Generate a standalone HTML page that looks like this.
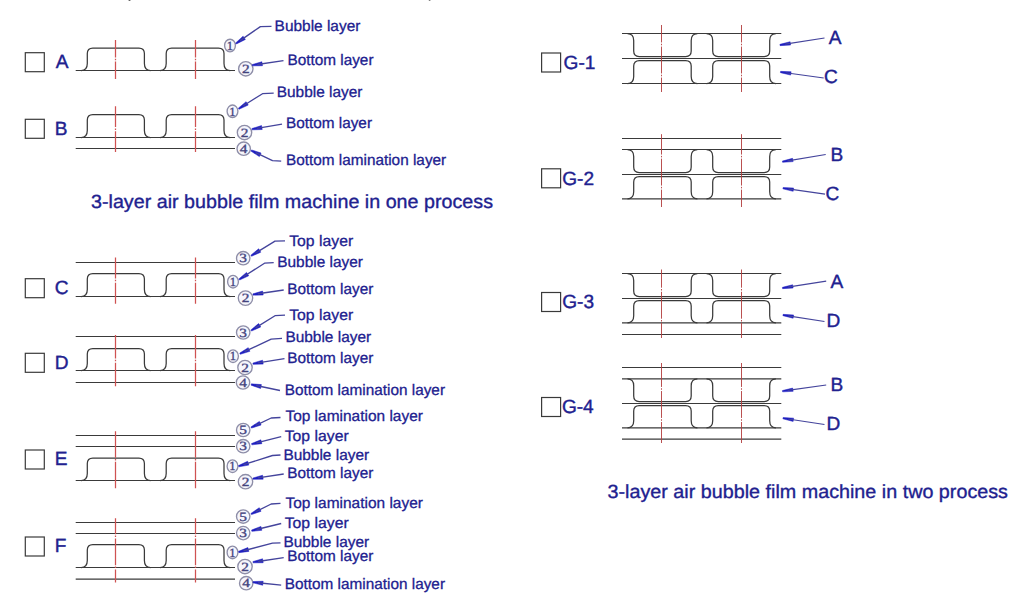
<!DOCTYPE html>
<html lang="en">
<head>
<meta charset="utf-8">
<title>3-layer air bubble film machine</title>
<style>
html,body{margin:0;padding:0;background:#ffffff;}
body{width:1024px;height:594px;overflow:hidden;}
svg{display:block;}
text{white-space:pre;}
</style>
</head>
<body>
<svg width="1024" height="594" viewBox="0 0 1024 594">
<rect x="0" y="0" width="1024" height="594" fill="#ffffff"/>
<rect x="128.6" y="0" width="1.8" height="0.9" fill="#555"/>
<rect x="428.8" y="0" width="1.6" height="0.8" fill="#666"/>
<line x1="75.7" y1="70.5" x2="235.0" y2="70.5" stroke="#3a3a3a" stroke-width="1.2"/>
<path d="M81.10,70.50 C85.10,70.50 87.30,68.30 87.30,63.50 L87.30,53.50 C87.30,50.20 89.50,48.00 92.80,48.00 L138.90,48.00 C142.20,48.00 144.40,50.20 144.40,53.50 L144.40,63.50 C144.40,68.30 146.60,70.50 150.60,70.50" fill="none" stroke="#3a3a3a" stroke-width="1.25" stroke-linejoin="round"/>
<path d="M160.00,70.50 C164.00,70.50 166.20,68.30 166.20,63.50 L166.20,53.50 C166.20,50.20 168.40,48.00 171.70,48.00 L218.50,48.00 C221.80,48.00 224.00,50.20 224.00,53.50 L224.00,63.50 C224.00,68.30 226.20,70.50 230.20,70.50" fill="none" stroke="#3a3a3a" stroke-width="1.25" stroke-linejoin="round"/>
<line x1="115.5" y1="40" x2="115.5" y2="79" stroke="#cf5252" stroke-width="1.25" stroke-dasharray="17.45 1.3 1.5 1.3 22.45"/>
<line x1="195.5" y1="40" x2="195.5" y2="79" stroke="#cf5252" stroke-width="1.25" stroke-dasharray="17.45 1.3 1.5 1.3 22.45"/>
<rect x="25.3" y="52.7" width="19" height="19" fill="none" stroke="#3a3a3a" stroke-width="1.2"/>
<text transform="translate(55.80,68.3) skewX(0.05)" font-size="19.1" font-family="Liberation Sans, Arial, sans-serif" fill="#21218f" text-anchor="start" stroke="#21218f" stroke-width="0.4">A</text>
<ellipse cx="230" cy="45.5" rx="5.40" ry="6.30" fill="#f6f6fc" stroke="#8e8ea8" stroke-width="1.35"/>
<text transform="translate(230,49.72) skewX(0.05) scale(1.0,1)" font-size="12.60" font-family="Liberation Serif, serif" fill="#44447e" stroke="#44447e" stroke-width="0.35" text-anchor="middle">1</text>
<ellipse cx="245.8" cy="68.75" rx="7.20" ry="7.20" fill="#f6f6fc" stroke="#8e8ea8" stroke-width="1.35"/>
<text transform="translate(245.8,72.97) skewX(0.05) scale(1.22,1)" font-size="12.60" font-family="Liberation Serif, serif" fill="#44447e" stroke="#44447e" stroke-width="0.35" text-anchor="middle">2</text>
<polygon points="236.37,44.03 245.36,39.45 243.08,36.16 235.63,42.97" fill="#1e1ec0" stroke="#1e1ec0" stroke-width="0.5" stroke-linejoin="round"/>
<path d="M240.11,40.65 L260.40,26.60 L271.50,26.30" fill="none" stroke="#44449c" stroke-width="1.35" stroke-linejoin="round"/>
<polygon points="252.39,65.84 262.48,65.72 261.90,61.76 252.21,64.56" fill="#1e1ec0" stroke="#1e1ec0" stroke-width="0.5" stroke-linejoin="round"/>
<path d="M257.25,64.47 L283.50,60.60" fill="none" stroke="#44449c" stroke-width="1.35" stroke-linejoin="round"/>
<text transform="translate(274.60,31.2) skewX(0.05)" font-size="15.2" font-family="Liberation Sans, Arial, sans-serif" fill="#21218f" text-anchor="start" textLength="85.8" lengthAdjust="spacingAndGlyphs" stroke="#21218f" stroke-width="0.3">Bubble layer</text>
<text transform="translate(287.40,64.9) skewX(0.05)" font-size="15.2" font-family="Liberation Sans, Arial, sans-serif" fill="#21218f" text-anchor="start" textLength="86.1" lengthAdjust="spacingAndGlyphs" stroke="#21218f" stroke-width="0.3">Bottom layer</text>
<line x1="75.7" y1="148.5" x2="235.0" y2="148.5" stroke="#3a3a3a" stroke-width="1.2"/>
<line x1="75.7" y1="137.5" x2="235.0" y2="137.5" stroke="#3a3a3a" stroke-width="1.2"/>
<path d="M81.10,137.50 C85.10,137.50 87.30,135.30 87.30,130.50 L87.30,120.00 C87.30,116.70 89.50,114.50 92.80,114.50 L138.90,114.50 C142.20,114.50 144.40,116.70 144.40,120.00 L144.40,130.50 C144.40,135.30 146.60,137.50 150.60,137.50" fill="none" stroke="#3a3a3a" stroke-width="1.25" stroke-linejoin="round"/>
<path d="M160.00,137.50 C164.00,137.50 166.20,135.30 166.20,130.50 L166.20,120.00 C166.20,116.70 168.40,114.50 171.70,114.50 L218.50,114.50 C221.80,114.50 224.00,116.70 224.00,120.00 L224.00,130.50 C224.00,135.30 226.20,137.50 230.20,137.50" fill="none" stroke="#3a3a3a" stroke-width="1.25" stroke-linejoin="round"/>
<line x1="115.5" y1="106.3" x2="115.5" y2="152" stroke="#cf5252" stroke-width="1.25" stroke-dasharray="20.80 1.3 1.5 1.3 25.80"/>
<line x1="195.5" y1="106.3" x2="195.5" y2="152" stroke="#cf5252" stroke-width="1.25" stroke-dasharray="20.80 1.3 1.5 1.3 25.80"/>
<rect x="25.3" y="119.3" width="19" height="19" fill="none" stroke="#3a3a3a" stroke-width="1.2"/>
<text transform="translate(54.80,134.8) skewX(0.05)" font-size="19.1" font-family="Liberation Sans, Arial, sans-serif" fill="#21218f" text-anchor="start" stroke="#21218f" stroke-width="0.4">B</text>
<ellipse cx="232.5" cy="111.3" rx="5.40" ry="6.30" fill="#f6f6fc" stroke="#8e8ea8" stroke-width="1.35"/>
<text transform="translate(232.5,115.52) skewX(0.05) scale(1.0,1)" font-size="12.60" font-family="Liberation Serif, serif" fill="#44447e" stroke="#44447e" stroke-width="0.35" text-anchor="middle">1</text>
<ellipse cx="244.5" cy="132.5" rx="7.20" ry="7.20" fill="#f6f6fc" stroke="#8e8ea8" stroke-width="1.35"/>
<text transform="translate(244.5,136.72) skewX(0.05) scale(1.22,1)" font-size="12.60" font-family="Liberation Serif, serif" fill="#44447e" stroke="#44447e" stroke-width="0.35" text-anchor="middle">2</text>
<ellipse cx="243.7" cy="148.7" rx="6.70" ry="6.70" fill="#f6f6fc" stroke="#8e8ea8" stroke-width="1.35"/>
<text transform="translate(243.7,152.92) skewX(0.05) scale(1.22,1)" font-size="12.60" font-family="Liberation Serif, serif" fill="#44447e" stroke="#44447e" stroke-width="0.35" text-anchor="middle">4</text>
<polygon points="239.05,109.25 248.23,105.06 246.09,101.68 238.35,108.15" fill="#1e1ec0" stroke="#1e1ec0" stroke-width="0.5" stroke-linejoin="round"/>
<path d="M242.93,106.03 L262.50,93.70 L273.70,93.20" fill="none" stroke="#44449c" stroke-width="1.35" stroke-linejoin="round"/>
<polygon points="252.11,129.84 262.19,129.53 261.54,125.58 251.89,128.56" fill="#1e1ec0" stroke="#1e1ec0" stroke-width="0.5" stroke-linejoin="round"/>
<path d="M256.93,128.38 L282.00,124.20" fill="none" stroke="#44449c" stroke-width="1.35" stroke-linejoin="round"/>
<polygon points="250.92,151.09 259.36,156.62 261.08,153.02 251.48,149.91" fill="#1e1ec0" stroke="#1e1ec0" stroke-width="0.5" stroke-linejoin="round"/>
<path d="M255.71,152.66 L272.50,160.70 L281.20,161.20" fill="none" stroke="#44449c" stroke-width="1.35" stroke-linejoin="round"/>
<text transform="translate(276.70,97.0) skewX(0.05)" font-size="15.2" font-family="Liberation Sans, Arial, sans-serif" fill="#21218f" text-anchor="start" textLength="85.8" lengthAdjust="spacingAndGlyphs" stroke="#21218f" stroke-width="0.3">Bubble layer</text>
<text transform="translate(285.90,128.0) skewX(0.05)" font-size="15.2" font-family="Liberation Sans, Arial, sans-serif" fill="#21218f" text-anchor="start" textLength="86.1" lengthAdjust="spacingAndGlyphs" stroke="#21218f" stroke-width="0.3">Bottom layer</text>
<text transform="translate(285.90,164.5) skewX(0.05)" font-size="15.2" font-family="Liberation Sans, Arial, sans-serif" fill="#21218f" text-anchor="start" textLength="160.3" lengthAdjust="spacingAndGlyphs" stroke="#21218f" stroke-width="0.3">Bottom lamination layer</text>
<text transform="translate(91.00,208.4) skewX(0.05)" font-size="19.1" font-family="Liberation Sans, Arial, sans-serif" fill="#21218f" text-anchor="start" textLength="402" lengthAdjust="spacingAndGlyphs" stroke="#21218f" stroke-width="0.35">3-layer air bubble film machine in one process</text>
<line x1="75.7" y1="262.5" x2="235.0" y2="262.5" stroke="#3a3a3a" stroke-width="1.2"/>
<line x1="75.7" y1="296.5" x2="235.0" y2="296.5" stroke="#3a3a3a" stroke-width="1.2"/>
<path d="M81.10,296.50 C85.10,296.50 87.30,294.30 87.30,289.50 L87.30,279.00 C87.30,275.70 89.50,273.50 92.80,273.50 L138.90,273.50 C142.20,273.50 144.40,275.70 144.40,279.00 L144.40,289.50 C144.40,294.30 146.60,296.50 150.60,296.50" fill="none" stroke="#3a3a3a" stroke-width="1.25" stroke-linejoin="round"/>
<path d="M160.00,296.50 C164.00,296.50 166.20,294.30 166.20,289.50 L166.20,279.00 C166.20,275.70 168.40,273.50 171.70,273.50 L218.50,273.50 C221.80,273.50 224.00,275.70 224.00,279.00 L224.00,289.50 C224.00,294.30 226.20,296.50 230.20,296.50" fill="none" stroke="#3a3a3a" stroke-width="1.25" stroke-linejoin="round"/>
<line x1="115.5" y1="257.5" x2="115.5" y2="303.7" stroke="#cf5252" stroke-width="1.25" stroke-dasharray="21.05 1.3 1.5 1.3 26.05"/>
<line x1="195.5" y1="257.5" x2="195.5" y2="303.7" stroke="#cf5252" stroke-width="1.25" stroke-dasharray="21.05 1.3 1.5 1.3 26.05"/>
<rect x="25.3" y="278.7" width="19" height="19" fill="none" stroke="#3a3a3a" stroke-width="1.2"/>
<text transform="translate(54.80,294.4) skewX(0.05)" font-size="19.1" font-family="Liberation Sans, Arial, sans-serif" fill="#21218f" text-anchor="start" stroke="#21218f" stroke-width="0.4">C</text>
<ellipse cx="243.2" cy="258.2" rx="6.70" ry="6.70" fill="#f6f6fc" stroke="#8e8ea8" stroke-width="1.35"/>
<text transform="translate(243.2,262.42) skewX(0.05) scale(1.22,1)" font-size="12.60" font-family="Liberation Serif, serif" fill="#44447e" stroke="#44447e" stroke-width="0.35" text-anchor="middle">3</text>
<ellipse cx="233" cy="281.7" rx="5.40" ry="6.30" fill="#f6f6fc" stroke="#8e8ea8" stroke-width="1.35"/>
<text transform="translate(233,285.92) skewX(0.05) scale(1.0,1)" font-size="12.60" font-family="Liberation Serif, serif" fill="#44447e" stroke="#44447e" stroke-width="0.35" text-anchor="middle">1</text>
<ellipse cx="245.5" cy="298.1" rx="7.20" ry="7.20" fill="#f6f6fc" stroke="#8e8ea8" stroke-width="1.35"/>
<text transform="translate(245.5,302.32) skewX(0.05) scale(1.22,1)" font-size="12.60" font-family="Liberation Serif, serif" fill="#44447e" stroke="#44447e" stroke-width="0.35" text-anchor="middle">2</text>
<polygon points="251.54,256.26 260.78,252.21 258.70,248.79 250.86,255.14" fill="#1e1ec0" stroke="#1e1ec0" stroke-width="0.5" stroke-linejoin="round"/>
<path d="M255.47,253.10 L275.00,241.20 L285.00,240.80" fill="none" stroke="#44449c" stroke-width="1.35" stroke-linejoin="round"/>
<polygon points="239.55,280.05 248.69,275.77 246.52,272.40 238.85,278.95" fill="#1e1ec0" stroke="#1e1ec0" stroke-width="0.5" stroke-linejoin="round"/>
<path d="M243.40,276.79 L264.50,263.20 L273.70,262.60" fill="none" stroke="#44449c" stroke-width="1.35" stroke-linejoin="round"/>
<polygon points="253.09,295.14 263.18,295.03 262.60,291.07 252.91,293.86" fill="#1e1ec0" stroke="#1e1ec0" stroke-width="0.5" stroke-linejoin="round"/>
<path d="M257.95,293.77 L283.70,290.00" fill="none" stroke="#44449c" stroke-width="1.35" stroke-linejoin="round"/>
<text transform="translate(289.20,245.8) skewX(0.05)" font-size="15.2" font-family="Liberation Sans, Arial, sans-serif" fill="#21218f" text-anchor="start" textLength="64.0" lengthAdjust="spacingAndGlyphs" stroke="#21218f" stroke-width="0.3">Top layer</text>
<text transform="translate(277.20,267.0) skewX(0.05)" font-size="15.2" font-family="Liberation Sans, Arial, sans-serif" fill="#21218f" text-anchor="start" textLength="85.8" lengthAdjust="spacingAndGlyphs" stroke="#21218f" stroke-width="0.3">Bubble layer</text>
<text transform="translate(287.20,294.0) skewX(0.05)" font-size="15.2" font-family="Liberation Sans, Arial, sans-serif" fill="#21218f" text-anchor="start" textLength="86.1" lengthAdjust="spacingAndGlyphs" stroke="#21218f" stroke-width="0.3">Bottom layer</text>
<line x1="75.7" y1="336.5" x2="235.0" y2="336.5" stroke="#3a3a3a" stroke-width="1.2"/>
<line x1="75.7" y1="382.5" x2="235.0" y2="382.5" stroke="#3a3a3a" stroke-width="1.2"/>
<line x1="75.7" y1="370.5" x2="235.0" y2="370.5" stroke="#3a3a3a" stroke-width="1.2"/>
<path d="M81.10,370.50 C85.10,370.50 87.30,368.30 87.30,363.50 L87.30,354.00 C87.30,350.70 89.50,348.50 92.80,348.50 L138.90,348.50 C142.20,348.50 144.40,350.70 144.40,354.00 L144.40,363.50 C144.40,368.30 146.60,370.50 150.60,370.50" fill="none" stroke="#3a3a3a" stroke-width="1.25" stroke-linejoin="round"/>
<path d="M160.00,370.50 C164.00,370.50 166.20,368.30 166.20,363.50 L166.20,354.00 C166.20,350.70 168.40,348.50 171.70,348.50 L218.50,348.50 C221.80,348.50 224.00,350.70 224.00,354.00 L224.00,363.50 C224.00,368.30 226.20,370.50 230.20,370.50" fill="none" stroke="#3a3a3a" stroke-width="1.25" stroke-linejoin="round"/>
<line x1="115.5" y1="335" x2="115.5" y2="386.2" stroke="#cf5252" stroke-width="1.25" stroke-dasharray="23.55 1.3 1.5 1.3 28.55"/>
<line x1="195.5" y1="335" x2="195.5" y2="386.2" stroke="#cf5252" stroke-width="1.25" stroke-dasharray="23.55 1.3 1.5 1.3 28.55"/>
<rect x="25.3" y="353.3" width="19" height="19" fill="none" stroke="#3a3a3a" stroke-width="1.2"/>
<text transform="translate(54.80,368.6) skewX(0.05)" font-size="19.1" font-family="Liberation Sans, Arial, sans-serif" fill="#21218f" text-anchor="start" stroke="#21218f" stroke-width="0.4">D</text>
<ellipse cx="243.2" cy="332.5" rx="6.70" ry="6.70" fill="#f6f6fc" stroke="#8e8ea8" stroke-width="1.35"/>
<text transform="translate(243.2,336.72) skewX(0.05) scale(1.22,1)" font-size="12.60" font-family="Liberation Serif, serif" fill="#44447e" stroke="#44447e" stroke-width="0.35" text-anchor="middle">3</text>
<ellipse cx="233" cy="356.2" rx="5.40" ry="6.30" fill="#f6f6fc" stroke="#8e8ea8" stroke-width="1.35"/>
<text transform="translate(233,360.42) skewX(0.05) scale(1.0,1)" font-size="12.60" font-family="Liberation Serif, serif" fill="#44447e" stroke="#44447e" stroke-width="0.35" text-anchor="middle">1</text>
<ellipse cx="245" cy="367.5" rx="7.20" ry="7.20" fill="#f6f6fc" stroke="#8e8ea8" stroke-width="1.35"/>
<text transform="translate(245,371.72) skewX(0.05) scale(1.22,1)" font-size="12.60" font-family="Liberation Serif, serif" fill="#44447e" stroke="#44447e" stroke-width="0.35" text-anchor="middle">2</text>
<ellipse cx="243" cy="382.5" rx="6.70" ry="6.70" fill="#f6f6fc" stroke="#8e8ea8" stroke-width="1.35"/>
<text transform="translate(243,386.72) skewX(0.05) scale(1.22,1)" font-size="12.60" font-family="Liberation Serif, serif" fill="#44447e" stroke="#44447e" stroke-width="0.35" text-anchor="middle">4</text>
<polygon points="251.54,331.05 260.75,326.92 258.64,323.52 250.86,329.95" fill="#1e1ec0" stroke="#1e1ec0" stroke-width="0.5" stroke-linejoin="round"/>
<path d="M255.45,327.86 L275.00,315.70 L285.00,315.20" fill="none" stroke="#44449c" stroke-width="1.35" stroke-linejoin="round"/>
<polygon points="240.27,354.29 249.91,351.30 248.23,347.67 239.73,353.11" fill="#1e1ec0" stroke="#1e1ec0" stroke-width="0.5" stroke-linejoin="round"/>
<path d="M244.53,351.59 L271.20,339.20 L282.00,338.40" fill="none" stroke="#44449c" stroke-width="1.35" stroke-linejoin="round"/>
<polygon points="253.10,364.34 263.19,364.11 262.56,360.16 252.90,363.06" fill="#1e1ec0" stroke="#1e1ec0" stroke-width="0.5" stroke-linejoin="round"/>
<path d="M257.94,362.92 L284.50,358.70" fill="none" stroke="#44449c" stroke-width="1.35" stroke-linejoin="round"/>
<polygon points="251.07,385.14 260.58,388.50 261.40,384.58 251.33,383.86" fill="#1e1ec0" stroke="#1e1ec0" stroke-width="0.5" stroke-linejoin="round"/>
<path d="M256.09,385.52 L280.00,390.50" fill="none" stroke="#44449c" stroke-width="1.35" stroke-linejoin="round"/>
<text transform="translate(289.20,320.0) skewX(0.05)" font-size="15.2" font-family="Liberation Sans, Arial, sans-serif" fill="#21218f" text-anchor="start" textLength="64.0" lengthAdjust="spacingAndGlyphs" stroke="#21218f" stroke-width="0.3">Top layer</text>
<text transform="translate(285.40,342.2) skewX(0.05)" font-size="15.2" font-family="Liberation Sans, Arial, sans-serif" fill="#21218f" text-anchor="start" textLength="85.8" lengthAdjust="spacingAndGlyphs" stroke="#21218f" stroke-width="0.3">Bubble layer</text>
<text transform="translate(287.20,363.0) skewX(0.05)" font-size="15.2" font-family="Liberation Sans, Arial, sans-serif" fill="#21218f" text-anchor="start" textLength="86.1" lengthAdjust="spacingAndGlyphs" stroke="#21218f" stroke-width="0.3">Bottom layer</text>
<text transform="translate(284.70,394.5) skewX(0.05)" font-size="15.2" font-family="Liberation Sans, Arial, sans-serif" fill="#21218f" text-anchor="start" textLength="160.3" lengthAdjust="spacingAndGlyphs" stroke="#21218f" stroke-width="0.3">Bottom lamination layer</text>
<line x1="75.7" y1="435.5" x2="235.0" y2="435.5" stroke="#3a3a3a" stroke-width="1.2"/>
<line x1="75.7" y1="446.5" x2="235.0" y2="446.5" stroke="#3a3a3a" stroke-width="1.2"/>
<line x1="75.7" y1="480.5" x2="235.0" y2="480.5" stroke="#3a3a3a" stroke-width="1.2"/>
<path d="M81.10,480.50 C85.10,480.50 87.30,478.30 87.30,473.50 L87.30,463.50 C87.30,460.20 89.50,458.00 92.80,458.00 L138.90,458.00 C142.20,458.00 144.40,460.20 144.40,463.50 L144.40,473.50 C144.40,478.30 146.60,480.50 150.60,480.50" fill="none" stroke="#3a3a3a" stroke-width="1.25" stroke-linejoin="round"/>
<path d="M160.00,480.50 C164.00,480.50 166.20,478.30 166.20,473.50 L166.20,463.50 C166.20,460.20 168.40,458.00 171.70,458.00 L218.50,458.00 C221.80,458.00 224.00,460.20 224.00,463.50 L224.00,473.50 C224.00,478.30 226.20,480.50 230.20,480.50" fill="none" stroke="#3a3a3a" stroke-width="1.25" stroke-linejoin="round"/>
<line x1="115.5" y1="431.2" x2="115.5" y2="488.2" stroke="#cf5252" stroke-width="1.25" stroke-dasharray="26.45 1.3 1.5 1.3 31.45"/>
<line x1="195.5" y1="431.2" x2="195.5" y2="488.2" stroke="#cf5252" stroke-width="1.25" stroke-dasharray="26.45 1.3 1.5 1.3 31.45"/>
<rect x="25.3" y="450.0" width="19" height="19" fill="none" stroke="#3a3a3a" stroke-width="1.2"/>
<text transform="translate(54.80,465.3) skewX(0.05)" font-size="19.1" font-family="Liberation Sans, Arial, sans-serif" fill="#21218f" text-anchor="start" stroke="#21218f" stroke-width="0.4">E</text>
<ellipse cx="243.2" cy="430" rx="6.70" ry="6.70" fill="#f6f6fc" stroke="#8e8ea8" stroke-width="1.35"/>
<text transform="translate(243.2,434.22) skewX(0.05) scale(1.22,1)" font-size="12.60" font-family="Liberation Serif, serif" fill="#44447e" stroke="#44447e" stroke-width="0.35" text-anchor="middle">5</text>
<ellipse cx="243.2" cy="446.2" rx="6.70" ry="6.70" fill="#f6f6fc" stroke="#8e8ea8" stroke-width="1.35"/>
<text transform="translate(243.2,450.42) skewX(0.05) scale(1.22,1)" font-size="12.60" font-family="Liberation Serif, serif" fill="#44447e" stroke="#44447e" stroke-width="0.35" text-anchor="middle">3</text>
<ellipse cx="232.5" cy="466.2" rx="5.40" ry="6.30" fill="#f6f6fc" stroke="#8e8ea8" stroke-width="1.35"/>
<text transform="translate(232.5,470.42) skewX(0.05) scale(1.0,1)" font-size="12.60" font-family="Liberation Serif, serif" fill="#44447e" stroke="#44447e" stroke-width="0.35" text-anchor="middle">1</text>
<ellipse cx="245.5" cy="481.7" rx="7.20" ry="7.20" fill="#f6f6fc" stroke="#8e8ea8" stroke-width="1.35"/>
<text transform="translate(245.5,485.92) skewX(0.05) scale(1.22,1)" font-size="12.60" font-family="Liberation Serif, serif" fill="#44447e" stroke="#44447e" stroke-width="0.35" text-anchor="middle">2</text>
<polygon points="251.48,428.09 261.09,425.02 259.37,421.40 250.92,426.91" fill="#1e1ec0" stroke="#1e1ec0" stroke-width="0.5" stroke-linejoin="round"/>
<path d="M255.72,425.35 L271.20,418.00 L280.50,417.50" fill="none" stroke="#44449c" stroke-width="1.35" stroke-linejoin="round"/>
<polygon points="251.86,444.83 261.88,443.67 260.90,439.80 251.54,443.57" fill="#1e1ec0" stroke="#1e1ec0" stroke-width="0.5" stroke-linejoin="round"/>
<path d="M256.55,442.97 L281.20,436.70" fill="none" stroke="#44449c" stroke-width="1.35" stroke-linejoin="round"/>
<polygon points="238.90,466.82 248.84,465.09 247.63,461.28 238.50,465.58" fill="#1e1ec0" stroke="#1e1ec0" stroke-width="0.5" stroke-linejoin="round"/>
<path d="M243.47,464.69 L272.50,455.50 L280.50,455.00" fill="none" stroke="#44449c" stroke-width="1.35" stroke-linejoin="round"/>
<polygon points="253.10,479.34 263.19,479.16 262.58,475.21 252.90,478.06" fill="#1e1ec0" stroke="#1e1ec0" stroke-width="0.5" stroke-linejoin="round"/>
<path d="M257.94,477.94 L283.70,474.00" fill="none" stroke="#44449c" stroke-width="1.35" stroke-linejoin="round"/>
<text transform="translate(285.40,420.5) skewX(0.05)" font-size="15.2" font-family="Liberation Sans, Arial, sans-serif" fill="#21218f" text-anchor="start" textLength="137.5" lengthAdjust="spacingAndGlyphs" stroke="#21218f" stroke-width="0.3">Top lamination layer</text>
<text transform="translate(284.70,440.8) skewX(0.05)" font-size="15.2" font-family="Liberation Sans, Arial, sans-serif" fill="#21218f" text-anchor="start" textLength="64.0" lengthAdjust="spacingAndGlyphs" stroke="#21218f" stroke-width="0.3">Top layer</text>
<text transform="translate(283.40,460.0) skewX(0.05)" font-size="15.2" font-family="Liberation Sans, Arial, sans-serif" fill="#21218f" text-anchor="start" textLength="85.8" lengthAdjust="spacingAndGlyphs" stroke="#21218f" stroke-width="0.3">Bubble layer</text>
<text transform="translate(287.20,478.0) skewX(0.05)" font-size="15.2" font-family="Liberation Sans, Arial, sans-serif" fill="#21218f" text-anchor="start" textLength="86.1" lengthAdjust="spacingAndGlyphs" stroke="#21218f" stroke-width="0.3">Bottom layer</text>
<line x1="75.7" y1="522.5" x2="235.0" y2="522.5" stroke="#3a3a3a" stroke-width="1.2"/>
<line x1="75.7" y1="533.5" x2="235.0" y2="533.5" stroke="#3a3a3a" stroke-width="1.2"/>
<line x1="75.7" y1="579.1" x2="235.0" y2="579.1" stroke="#3a3a3a" stroke-width="1.2"/>
<line x1="75.7" y1="567.5" x2="235.0" y2="567.5" stroke="#3a3a3a" stroke-width="1.2"/>
<path d="M81.10,567.50 C85.10,567.50 87.30,565.30 87.30,560.50 L87.30,550.00 C87.30,546.70 89.50,544.50 92.80,544.50 L138.90,544.50 C142.20,544.50 144.40,546.70 144.40,550.00 L144.40,560.50 C144.40,565.30 146.60,567.50 150.60,567.50" fill="none" stroke="#3a3a3a" stroke-width="1.25" stroke-linejoin="round"/>
<path d="M160.00,567.50 C164.00,567.50 166.20,565.30 166.20,560.50 L166.20,550.00 C166.20,546.70 168.40,544.50 171.70,544.50 L218.50,544.50 C221.80,544.50 224.00,546.70 224.00,550.00 L224.00,560.50 C224.00,565.30 226.20,567.50 230.20,567.50" fill="none" stroke="#3a3a3a" stroke-width="1.25" stroke-linejoin="round"/>
<line x1="115.5" y1="518.2" x2="115.5" y2="582.5" stroke="#cf5252" stroke-width="1.25" stroke-dasharray="16.10 1.3 1.5 1.3 26.90 1.3 1.5 1.3 26.10"/>
<line x1="195.5" y1="518.2" x2="195.5" y2="582.5" stroke="#cf5252" stroke-width="1.25" stroke-dasharray="16.10 1.3 1.5 1.3 26.90 1.3 1.5 1.3 26.10"/>
<rect x="25.3" y="537.0" width="19" height="19" fill="none" stroke="#3a3a3a" stroke-width="1.2"/>
<text transform="translate(54.80,552.1) skewX(0.05)" font-size="19.1" font-family="Liberation Sans, Arial, sans-serif" fill="#21218f" text-anchor="start" stroke="#21218f" stroke-width="0.4">F</text>
<ellipse cx="243.2" cy="516.5" rx="6.70" ry="6.70" fill="#f6f6fc" stroke="#8e8ea8" stroke-width="1.35"/>
<text transform="translate(243.2,520.72) skewX(0.05) scale(1.22,1)" font-size="12.60" font-family="Liberation Serif, serif" fill="#44447e" stroke="#44447e" stroke-width="0.35" text-anchor="middle">5</text>
<ellipse cx="243.2" cy="533.1" rx="6.70" ry="6.70" fill="#f6f6fc" stroke="#8e8ea8" stroke-width="1.35"/>
<text transform="translate(243.2,537.32) skewX(0.05) scale(1.22,1)" font-size="12.60" font-family="Liberation Serif, serif" fill="#44447e" stroke="#44447e" stroke-width="0.35" text-anchor="middle">3</text>
<ellipse cx="232.5" cy="552.4" rx="5.40" ry="6.30" fill="#f6f6fc" stroke="#8e8ea8" stroke-width="1.35"/>
<text transform="translate(232.5,556.62) skewX(0.05) scale(1.0,1)" font-size="12.60" font-family="Liberation Serif, serif" fill="#44447e" stroke="#44447e" stroke-width="0.35" text-anchor="middle">1</text>
<ellipse cx="245" cy="566.5" rx="7.20" ry="7.20" fill="#f6f6fc" stroke="#8e8ea8" stroke-width="1.35"/>
<text transform="translate(245,570.72) skewX(0.05) scale(1.22,1)" font-size="12.60" font-family="Liberation Serif, serif" fill="#44447e" stroke="#44447e" stroke-width="0.35" text-anchor="middle">2</text>
<ellipse cx="246.2" cy="583.2" rx="6.70" ry="6.70" fill="#f6f6fc" stroke="#8e8ea8" stroke-width="1.35"/>
<text transform="translate(246.2,587.42) skewX(0.05) scale(1.22,1)" font-size="12.60" font-family="Liberation Serif, serif" fill="#44447e" stroke="#44447e" stroke-width="0.35" text-anchor="middle">4</text>
<polygon points="251.49,514.58 261.04,511.32 259.25,507.74 250.91,513.42" fill="#1e1ec0" stroke="#1e1ec0" stroke-width="0.5" stroke-linejoin="round"/>
<path d="M255.67,511.76 L271.20,504.00 L280.50,503.30" fill="none" stroke="#44449c" stroke-width="1.35" stroke-linejoin="round"/>
<polygon points="251.85,531.33 261.89,530.27 260.94,526.39 251.55,530.07" fill="#1e1ec0" stroke="#1e1ec0" stroke-width="0.5" stroke-linejoin="round"/>
<path d="M256.56,529.51 L281.20,523.50" fill="none" stroke="#44449c" stroke-width="1.35" stroke-linejoin="round"/>
<polygon points="238.86,552.63 248.88,551.42 247.87,547.54 238.54,551.37" fill="#1e1ec0" stroke="#1e1ec0" stroke-width="0.5" stroke-linejoin="round"/>
<path d="M243.54,550.74 L272.50,543.20 L280.50,542.80" fill="none" stroke="#44449c" stroke-width="1.35" stroke-linejoin="round"/>
<polygon points="253.09,562.84 263.18,562.73 262.60,558.77 252.91,561.56" fill="#1e1ec0" stroke="#1e1ec0" stroke-width="0.5" stroke-linejoin="round"/>
<path d="M257.95,561.47 L283.70,557.70" fill="none" stroke="#44449c" stroke-width="1.35" stroke-linejoin="round"/>
<polygon points="252.93,582.85 262.73,585.25 263.16,581.27 253.07,581.55" fill="#1e1ec0" stroke="#1e1ec0" stroke-width="0.5" stroke-linejoin="round"/>
<path d="M257.97,582.73 L281.20,585.20" fill="none" stroke="#44449c" stroke-width="1.35" stroke-linejoin="round"/>
<text transform="translate(285.40,507.6) skewX(0.05)" font-size="15.2" font-family="Liberation Sans, Arial, sans-serif" fill="#21218f" text-anchor="start" textLength="137.5" lengthAdjust="spacingAndGlyphs" stroke="#21218f" stroke-width="0.3">Top lamination layer</text>
<text transform="translate(284.70,528.4) skewX(0.05)" font-size="15.2" font-family="Liberation Sans, Arial, sans-serif" fill="#21218f" text-anchor="start" textLength="64.0" lengthAdjust="spacingAndGlyphs" stroke="#21218f" stroke-width="0.3">Top layer</text>
<text transform="translate(283.40,547.2) skewX(0.05)" font-size="15.2" font-family="Liberation Sans, Arial, sans-serif" fill="#21218f" text-anchor="start" textLength="85.8" lengthAdjust="spacingAndGlyphs" stroke="#21218f" stroke-width="0.3">Bubble layer</text>
<text transform="translate(287.20,561.3) skewX(0.05)" font-size="15.2" font-family="Liberation Sans, Arial, sans-serif" fill="#21218f" text-anchor="start" textLength="86.1" lengthAdjust="spacingAndGlyphs" stroke="#21218f" stroke-width="0.3">Bottom layer</text>
<text transform="translate(284.70,589.2) skewX(0.05)" font-size="15.2" font-family="Liberation Sans, Arial, sans-serif" fill="#21218f" text-anchor="start" textLength="160.3" lengthAdjust="spacingAndGlyphs" stroke="#21218f" stroke-width="0.3">Bottom lamination layer</text>
<line x1="622.0" y1="33.5" x2="781.3" y2="33.5" stroke="#3a3a3a" stroke-width="1.2"/>
<line x1="622.0" y1="58.5" x2="781.3" y2="58.5" stroke="#3a3a3a" stroke-width="1.2"/>
<line x1="622.0" y1="83.5" x2="781.3" y2="83.5" stroke="#3a3a3a" stroke-width="1.2"/>
<path d="M627.50,33.50 C631.50,33.50 633.70,35.70 633.70,40.50 L633.70,51.00 C633.70,54.30 635.90,56.50 639.20,56.50 L685.70,56.50 C689.00,56.50 691.20,54.30 691.20,51.00 L691.20,40.50 C691.20,35.70 693.40,33.50 697.40,33.50" fill="none" stroke="#3a3a3a" stroke-width="1.25" stroke-linejoin="round"/>
<path d="M706.50,33.50 C710.50,33.50 712.70,35.70 712.70,40.50 L712.70,51.00 C712.70,54.30 714.90,56.50 718.20,56.50 L764.20,56.50 C767.50,56.50 769.70,54.30 769.70,51.00 L769.70,40.50 C769.70,35.70 771.90,33.50 775.90,33.50" fill="none" stroke="#3a3a3a" stroke-width="1.25" stroke-linejoin="round"/>
<path d="M627.50,83.50 C631.50,83.50 633.70,81.30 633.70,76.50 L633.70,66.00 C633.70,62.70 635.90,60.50 639.20,60.50 L685.70,60.50 C689.00,60.50 691.20,62.70 691.20,66.00 L691.20,76.50 C691.20,81.30 693.40,83.50 697.40,83.50" fill="none" stroke="#3a3a3a" stroke-width="1.25" stroke-linejoin="round"/>
<path d="M706.50,83.50 C710.50,83.50 712.70,81.30 712.70,76.50 L712.70,66.00 C712.70,62.70 714.90,60.50 718.20,60.50 L764.20,60.50 C767.50,60.50 769.70,62.70 769.70,66.00 L769.70,76.50 C769.70,81.30 771.90,83.50 775.90,83.50" fill="none" stroke="#3a3a3a" stroke-width="1.25" stroke-linejoin="round"/>
<line x1="661.5" y1="25" x2="661.5" y2="92" stroke="#b23c3c" stroke-width="0.9" stroke-dasharray="17.45 1.3 1.5 1.3 26.90 1.3 1.5 1.3 27.45"/>
<line x1="741.5" y1="25" x2="741.5" y2="92" stroke="#b23c3c" stroke-width="0.9" stroke-dasharray="17.45 1.3 1.5 1.3 26.90 1.3 1.5 1.3 27.45"/>
<rect x="541.6" y="53.0" width="19" height="19" fill="none" stroke="#3a3a3a" stroke-width="1.2"/>
<text transform="translate(563.60,68.8) skewX(0.05)" font-size="19.1" font-family="Liberation Sans, Arial, sans-serif" fill="#21218f" text-anchor="start" stroke="#21218f" stroke-width="0.4">G-1</text>
<polygon points="780.10,45.64 790.63,45.00 790.12,41.74 779.90,44.36" fill="#1e1ec0" stroke="#1e1ec0" stroke-width="0.5" stroke-linejoin="round"/>
<path d="M785.19,44.18 L824.50,38.00" fill="none" stroke="#44449c" stroke-width="1.2" stroke-linejoin="round"/>
<polygon points="780.41,72.64 790.67,75.08 791.13,71.81 780.59,71.36" fill="#1e1ec0" stroke="#1e1ec0" stroke-width="0.5" stroke-linejoin="round"/>
<path d="M785.70,72.72 L823.70,78.00" fill="none" stroke="#44449c" stroke-width="1.2" stroke-linejoin="round"/>
<text transform="translate(828.70,44.3) skewX(0.05)" font-size="19.1" font-family="Liberation Sans, Arial, sans-serif" fill="#21218f" text-anchor="start" stroke="#21218f" stroke-width="0.4">A</text>
<text transform="translate(824.00,83.3) skewX(0.05)" font-size="19.1" font-family="Liberation Sans, Arial, sans-serif" fill="#21218f" text-anchor="start" stroke="#21218f" stroke-width="0.4">C</text>
<line x1="622.0" y1="138.5" x2="781.3" y2="138.5" stroke="#3a3a3a" stroke-width="1.2"/>
<line x1="622.0" y1="149.5" x2="781.3" y2="149.5" stroke="#3a3a3a" stroke-width="1.2"/>
<line x1="622.0" y1="174.5" x2="781.3" y2="174.5" stroke="#3a3a3a" stroke-width="1.2"/>
<line x1="622.0" y1="198.8" x2="781.3" y2="198.8" stroke="#3a3a3a" stroke-width="1.2"/>
<path d="M627.50,149.50 C631.50,149.50 633.70,151.70 633.70,156.50 L633.70,167.00 C633.70,170.30 635.90,172.50 639.20,172.50 L685.70,172.50 C689.00,172.50 691.20,170.30 691.20,167.00 L691.20,156.50 C691.20,151.70 693.40,149.50 697.40,149.50" fill="none" stroke="#3a3a3a" stroke-width="1.25" stroke-linejoin="round"/>
<path d="M706.50,149.50 C710.50,149.50 712.70,151.70 712.70,156.50 L712.70,167.00 C712.70,170.30 714.90,172.50 718.20,172.50 L764.20,172.50 C767.50,172.50 769.70,170.30 769.70,167.00 L769.70,156.50 C769.70,151.70 771.90,149.50 775.90,149.50" fill="none" stroke="#3a3a3a" stroke-width="1.25" stroke-linejoin="round"/>
<path d="M627.50,198.80 C631.50,198.80 633.70,196.60 633.70,191.80 L633.70,182.00 C633.70,178.70 635.90,176.50 639.20,176.50 L685.70,176.50 C689.00,176.50 691.20,178.70 691.20,182.00 L691.20,191.80 C691.20,196.60 693.40,198.80 697.40,198.80" fill="none" stroke="#3a3a3a" stroke-width="1.25" stroke-linejoin="round"/>
<path d="M706.50,198.80 C710.50,198.80 712.70,196.60 712.70,191.80 L712.70,182.00 C712.70,178.70 714.90,176.50 718.20,176.50 L764.20,176.50 C767.50,176.50 769.70,178.70 769.70,182.00 L769.70,191.80 C769.70,196.60 771.90,198.80 775.90,198.80" fill="none" stroke="#3a3a3a" stroke-width="1.25" stroke-linejoin="round"/>
<line x1="661.5" y1="134.2" x2="661.5" y2="207" stroke="#b23c3c" stroke-width="0.9" stroke-dasharray="20.35 1.3 1.5 1.3 26.90 1.3 1.5 1.3 30.35"/>
<line x1="741.5" y1="134.2" x2="741.5" y2="207" stroke="#b23c3c" stroke-width="0.9" stroke-dasharray="20.35 1.3 1.5 1.3 26.90 1.3 1.5 1.3 30.35"/>
<rect x="541.6" y="168.8" width="19" height="19" fill="none" stroke="#3a3a3a" stroke-width="1.2"/>
<text transform="translate(562.20,184.5) skewX(0.05)" font-size="19.1" font-family="Liberation Sans, Arial, sans-serif" fill="#21218f" text-anchor="start" stroke="#21218f" stroke-width="0.4">G-2</text>
<polygon points="782.61,162.34 793.13,161.60 792.59,158.35 782.39,161.06" fill="#1e1ec0" stroke="#1e1ec0" stroke-width="0.5" stroke-linejoin="round"/>
<path d="M787.68,160.84 L825.70,154.50" fill="none" stroke="#44449c" stroke-width="1.2" stroke-linejoin="round"/>
<polygon points="782.91,188.84 793.16,191.32 793.63,188.05 783.09,187.56" fill="#1e1ec0" stroke="#1e1ec0" stroke-width="0.5" stroke-linejoin="round"/>
<path d="M788.20,188.94 L825.00,194.20" fill="none" stroke="#44449c" stroke-width="1.2" stroke-linejoin="round"/>
<text transform="translate(830.50,160.5) skewX(0.05)" font-size="19.1" font-family="Liberation Sans, Arial, sans-serif" fill="#21218f" text-anchor="start" stroke="#21218f" stroke-width="0.4">B</text>
<text transform="translate(825.50,199.5) skewX(0.05)" font-size="19.1" font-family="Liberation Sans, Arial, sans-serif" fill="#21218f" text-anchor="start" stroke="#21218f" stroke-width="0.4">C</text>
<line x1="622.0" y1="334.5" x2="781.3" y2="334.5" stroke="#3a3a3a" stroke-width="1.2"/>
<line x1="622.0" y1="273.5" x2="781.3" y2="273.5" stroke="#3a3a3a" stroke-width="1.2"/>
<line x1="622.0" y1="298.5" x2="781.3" y2="298.5" stroke="#3a3a3a" stroke-width="1.2"/>
<line x1="622.0" y1="322.8" x2="781.3" y2="322.8" stroke="#3a3a3a" stroke-width="1.2"/>
<path d="M627.50,273.50 C631.50,273.50 633.70,275.70 633.70,280.50 L633.70,291.00 C633.70,294.30 635.90,296.50 639.20,296.50 L685.70,296.50 C689.00,296.50 691.20,294.30 691.20,291.00 L691.20,280.50 C691.20,275.70 693.40,273.50 697.40,273.50" fill="none" stroke="#3a3a3a" stroke-width="1.25" stroke-linejoin="round"/>
<path d="M706.50,273.50 C710.50,273.50 712.70,275.70 712.70,280.50 L712.70,291.00 C712.70,294.30 714.90,296.50 718.20,296.50 L764.20,296.50 C767.50,296.50 769.70,294.30 769.70,291.00 L769.70,280.50 C769.70,275.70 771.90,273.50 775.90,273.50" fill="none" stroke="#3a3a3a" stroke-width="1.25" stroke-linejoin="round"/>
<path d="M627.50,322.80 C631.50,322.80 633.70,320.60 633.70,315.80 L633.70,306.00 C633.70,302.70 635.90,300.50 639.20,300.50 L685.70,300.50 C689.00,300.50 691.20,302.70 691.20,306.00 L691.20,315.80 C691.20,320.60 693.40,322.80 697.40,322.80" fill="none" stroke="#3a3a3a" stroke-width="1.25" stroke-linejoin="round"/>
<path d="M706.50,322.80 C710.50,322.80 712.70,320.60 712.70,315.80 L712.70,306.00 C712.70,302.70 714.90,300.50 718.20,300.50 L764.20,300.50 C767.50,300.50 769.70,302.70 769.70,306.00 L769.70,315.80 C769.70,320.60 771.90,322.80 775.90,322.80" fill="none" stroke="#3a3a3a" stroke-width="1.25" stroke-linejoin="round"/>
<line x1="661.5" y1="269.5" x2="661.5" y2="338" stroke="#b23c3c" stroke-width="0.9" stroke-dasharray="18.20 1.3 1.5 1.3 26.90 1.3 1.5 1.3 28.20"/>
<line x1="741.5" y1="269.5" x2="741.5" y2="338" stroke="#b23c3c" stroke-width="0.9" stroke-dasharray="18.20 1.3 1.5 1.3 26.90 1.3 1.5 1.3 28.20"/>
<rect x="541.6" y="292.5" width="19" height="19" fill="none" stroke="#3a3a3a" stroke-width="1.2"/>
<text transform="translate(562.20,308.3) skewX(0.05)" font-size="19.1" font-family="Liberation Sans, Arial, sans-serif" fill="#21218f" text-anchor="start" stroke="#21218f" stroke-width="0.4">G-3</text>
<polygon points="782.60,288.64 793.13,288.02 792.62,284.76 782.40,287.36" fill="#1e1ec0" stroke="#1e1ec0" stroke-width="0.5" stroke-linejoin="round"/>
<path d="M787.69,287.19 L826.20,281.20" fill="none" stroke="#44449c" stroke-width="1.2" stroke-linejoin="round"/>
<polygon points="782.90,315.64 793.12,318.25 793.63,314.99 783.10,314.36" fill="#1e1ec0" stroke="#1e1ec0" stroke-width="0.5" stroke-linejoin="round"/>
<path d="M788.19,315.81 L824.50,321.50" fill="none" stroke="#44449c" stroke-width="1.2" stroke-linejoin="round"/>
<text transform="translate(830.50,287.5) skewX(0.05)" font-size="19.1" font-family="Liberation Sans, Arial, sans-serif" fill="#21218f" text-anchor="start" stroke="#21218f" stroke-width="0.4">A</text>
<text transform="translate(826.50,326.8) skewX(0.05)" font-size="19.1" font-family="Liberation Sans, Arial, sans-serif" fill="#21218f" text-anchor="start" stroke="#21218f" stroke-width="0.4">D</text>
<line x1="622.0" y1="367.5" x2="781.3" y2="367.5" stroke="#3a3a3a" stroke-width="1.2"/>
<line x1="622.0" y1="439.2" x2="781.3" y2="439.2" stroke="#3a3a3a" stroke-width="1.2"/>
<line x1="622.0" y1="378.8" x2="781.3" y2="378.8" stroke="#3a3a3a" stroke-width="1.2"/>
<line x1="622.0" y1="403.5" x2="781.3" y2="403.5" stroke="#3a3a3a" stroke-width="1.2"/>
<line x1="622.0" y1="427.8" x2="781.3" y2="427.8" stroke="#3a3a3a" stroke-width="1.2"/>
<path d="M627.50,378.80 C631.50,378.80 633.70,381.00 633.70,385.80 L633.70,396.00 C633.70,399.30 635.90,401.50 639.20,401.50 L685.70,401.50 C689.00,401.50 691.20,399.30 691.20,396.00 L691.20,385.80 C691.20,381.00 693.40,378.80 697.40,378.80" fill="none" stroke="#3a3a3a" stroke-width="1.25" stroke-linejoin="round"/>
<path d="M706.50,378.80 C710.50,378.80 712.70,381.00 712.70,385.80 L712.70,396.00 C712.70,399.30 714.90,401.50 718.20,401.50 L764.20,401.50 C767.50,401.50 769.70,399.30 769.70,396.00 L769.70,385.80 C769.70,381.00 771.90,378.80 775.90,378.80" fill="none" stroke="#3a3a3a" stroke-width="1.25" stroke-linejoin="round"/>
<path d="M627.50,427.80 C631.50,427.80 633.70,425.60 633.70,420.80 L633.70,411.00 C633.70,407.70 635.90,405.50 639.20,405.50 L685.70,405.50 C689.00,405.50 691.20,407.70 691.20,411.00 L691.20,420.80 C691.20,425.60 693.40,427.80 697.40,427.80" fill="none" stroke="#3a3a3a" stroke-width="1.25" stroke-linejoin="round"/>
<path d="M706.50,427.80 C710.50,427.80 712.70,425.60 712.70,420.80 L712.70,411.00 C712.70,407.70 714.90,405.50 718.20,405.50 L764.20,405.50 C767.50,405.50 769.70,407.70 769.70,411.00 L769.70,420.80 C769.70,425.60 771.90,427.80 775.90,427.80" fill="none" stroke="#3a3a3a" stroke-width="1.25" stroke-linejoin="round"/>
<line x1="661.5" y1="363" x2="661.5" y2="443" stroke="#b23c3c" stroke-width="0.9" stroke-dasharray="23.95 1.3 1.5 1.3 26.90 1.3 1.5 1.3 33.95"/>
<line x1="741.5" y1="363" x2="741.5" y2="443" stroke="#b23c3c" stroke-width="0.9" stroke-dasharray="23.95 1.3 1.5 1.3 26.90 1.3 1.5 1.3 33.95"/>
<rect x="541.6" y="397.5" width="19" height="19" fill="none" stroke="#3a3a3a" stroke-width="1.2"/>
<text transform="translate(561.90,413.0) skewX(0.05)" font-size="19.1" font-family="Liberation Sans, Arial, sans-serif" fill="#21218f" text-anchor="start" stroke="#21218f" stroke-width="0.4">G-4</text>
<polygon points="782.59,391.84 793.13,391.36 792.66,388.09 782.41,390.56" fill="#1e1ec0" stroke="#1e1ec0" stroke-width="0.5" stroke-linejoin="round"/>
<path d="M787.70,390.46 L826.20,385.00" fill="none" stroke="#44449c" stroke-width="1.2" stroke-linejoin="round"/>
<polygon points="782.90,418.84 793.13,421.41 793.63,418.14 783.10,417.56" fill="#1e1ec0" stroke="#1e1ec0" stroke-width="0.5" stroke-linejoin="round"/>
<path d="M788.19,418.99 L824.50,424.50" fill="none" stroke="#44449c" stroke-width="1.2" stroke-linejoin="round"/>
<text transform="translate(830.50,390.8) skewX(0.05)" font-size="19.1" font-family="Liberation Sans, Arial, sans-serif" fill="#21218f" text-anchor="start" stroke="#21218f" stroke-width="0.4">B</text>
<text transform="translate(826.50,430.0) skewX(0.05)" font-size="19.1" font-family="Liberation Sans, Arial, sans-serif" fill="#21218f" text-anchor="start" stroke="#21218f" stroke-width="0.4">D</text>
<text transform="translate(607.50,498.0) skewX(0.05)" font-size="19.1" font-family="Liberation Sans, Arial, sans-serif" fill="#21218f" text-anchor="start" textLength="400.5" lengthAdjust="spacingAndGlyphs" stroke="#21218f" stroke-width="0.35">3-layer air bubble film machine in two process</text>
</svg>
</body>
</html>
